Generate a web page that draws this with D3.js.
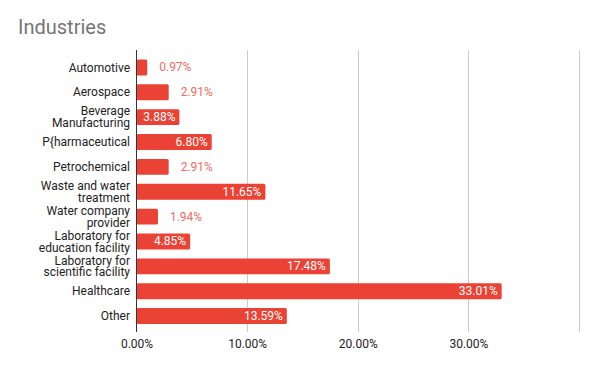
<!DOCTYPE html>
<html><head><meta charset="utf-8">
<script src="https://cdn.jsdelivr.net/npm/d3@7"></script>
<style>body{margin:0;background:#fff}svg{display:block}text{font-family:Roboto,Arial,sans-serif}</style>
</head><body>
<script>
const categories = [["Automotive"],["Aerospace"],["Beverage","Manufacturing"],["P{harmaceutical"],["Petrochemical"],["Waste and water","treatment"],["Water company","provider"],["Laboratory for","education facility"],["Laboratory for","scientific facility"],["Healthcare"],["Other"]];
const values = [0.0097,0.0291,0.0388,0.0680,0.0291,0.1165,0.0194,0.0485,0.1748,0.3301,0.1359];
const valueLabels = ["0.97%","2.91%","3.88%","6.80%","2.91%","11.65%","1.94%","4.85%","17.48%","33.01%","13.59%"];
const tickValues = [0,0.1,0.2,0.3,0.4];
const tickLabels = ["0.00%","10.00%","20.00%","30.00%",""];

const W=597,H=369;
const svg=d3.select("body").append("svg").attr("width",W).attr("height",H);
svg.append("text").attr("x",18).attr("y",34).attr("font-size",20).attr("fill","#757575").text("Industries");

const x=d3.scaleLinear().domain([0,0.4]).range([136.5,579]);
const y=d3.scaleBand().domain(d3.range(categories.length)).range([55,328.5]).paddingInner(0.36).paddingOuter(0.18);

// gridlines
svg.append("g").selectAll("line").data(tickValues.slice(1)).join("line")
  .attr("x1",d=>Math.round(x(d))+0.5).attr("x2",d=>Math.round(x(d))+0.5)
  .attr("y1",50).attr("y2",332).attr("stroke","#cccccc").attr("stroke-width",1);

// x axis tick labels
const xAxis=d3.axisBottom(x).tickValues(tickValues).tickFormat((d,i)=>tickLabels[i]).tickSize(0).tickPadding(0);
const gx=svg.append("g").attr("transform","translate(0,348)").call(xAxis);
gx.select(".domain").remove();
gx.selectAll("text").attr("font-size",12).attr("fill","#222").attr("font-family","Roboto,Arial,sans-serif").attr("dy","0");

// bars
svg.append("g").selectAll("rect").data(values).join("rect")
  .attr("x",x(0)).attr("y",(d,i)=>y(i)).attr("width",d=>x(d)-x(0)).attr("height",y.bandwidth())
  .attr("rx",1.5).attr("fill","#ea4335");

// axis line
svg.append("line").attr("x1",136.5).attr("x2",136.5).attr("y1",50).attr("y2",332).attr("stroke","#333").attr("stroke-width",1);

// category labels
const yl=svg.append("g");
categories.forEach((lines,i)=>{
  const cy=y(i)+y.bandwidth()/2;
  const lh=11.8;
  const t=yl.append("text").attr("text-anchor","end").attr("font-size",12).attr("fill","#222");
  lines.forEach((l,j)=>{
    t.append("tspan").attr("x",130).attr("y",cy+4.2+(j-(lines.length-1)/2)*lh).text(l);
  });
});

// value labels
const vl=svg.append("g");
values.forEach((v,i)=>{
  const cy=y(i)+y.bandwidth()/2+4;
  const w=x(v)-x(0);
  const t=vl.append("text").attr("font-size",12).text(valueLabels[i]);
  const tw=t.node().getComputedTextLength();
  if(w>tw+8){
    t.attr("x",x(v)-4).attr("y",cy).attr("text-anchor","end").attr("fill","#fff");
  } else {
    t.attr("x",x(v)+12).attr("y",cy).attr("text-anchor","start").attr("fill","#f26b61");
  }
});
</script>
</body></html>
